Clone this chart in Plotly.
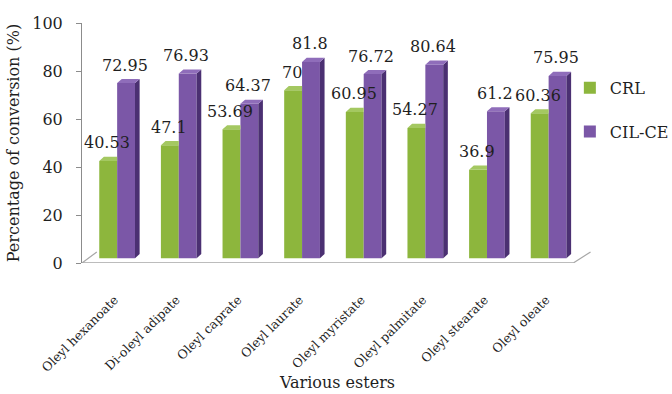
import plotly.graph_objects as go

# Conversion of the enzymatic esterifications, per ester
esters = ["Oleyl hexanoate", "Di-oleyl adipate", "Oleyl caprate", "Oleyl laurate",
          "Oleyl myristate", "Oleyl palmitate", "Oleyl stearate", "Oleyl oleate"]
crl = [40.53, 47.1, 53.69, 70, 60.95, 54.27, 36.9, 60.36]
cil_ce = [72.95, 76.93, 64.37, 81.8, 76.72, 80.64, 61.2, 75.95]

pos = list(range(len(esters)))

FONT = "DejaVu Serif"
TXT = "#1f1f1f"
GREEN, GREEN_TOP = "#8db63d", "#a4c861"
PURPLE, PURPLE_TOP, PURPLE_SIDE = "#7b57a7", "#8f6dba", "#4b3072"

BW = 0.29        # bar width (category units)
DX, DY = 0.075, 1.7   # pseudo-3D depth offset (x units, value units)
BASE_SHIFT = 2.0      # bars stand slightly behind the axis plane


def top_faces(vals, x_off, clip_right=False):
    xs, ys = [], []
    for p, v in zip(pos, vals):
        x0, x1 = p + x_off, p + x_off + BW
        xr = x1 if clip_right else x1 + DX
        xs += [x0, x1, xr, x0 + DX, x0, None]
        ys += [v, v, v + DY, v + DY, v, None]
    return xs, ys


def side_faces(vals, x_off):
    xs, ys = [], []
    for p, v in zip(pos, vals):
        x1 = p + x_off + BW
        xs += [x1, x1, x1 + DX, x1 + DX, x1, None]
        ys += [0, v, v + DY, DY, 0, None]
    return xs, ys


fig = go.Figure()

fig.add_trace(go.Bar(x=pos, y=crl, width=BW, offset=-BW, name="CRL",
                     marker=dict(color=GREEN, line=dict(width=0)),
                     yaxis="y2", legendgroup="a"))
fig.add_trace(go.Bar(x=pos, y=cil_ce, width=BW, offset=0, name="CIL-CE",
                     marker=dict(color=PURPLE, line=dict(width=0)),
                     yaxis="y2", legendgroup="b"))

gx, gy = top_faces(crl, -BW, clip_right=True)
fig.add_trace(go.Scatter(x=gx, y=gy, fill="toself", fillcolor=GREEN_TOP, mode="lines",
                         line=dict(width=0), yaxis="y2", showlegend=False, hoverinfo="skip"))
sx, sy = side_faces(cil_ce, 0)
fig.add_trace(go.Scatter(x=sx, y=sy, fill="toself", fillcolor=PURPLE_SIDE, mode="lines",
                         line=dict(width=0), yaxis="y2", showlegend=False, hoverinfo="skip"))
px_, py_ = top_faces(cil_ce, 0)
fig.add_trace(go.Scatter(x=px_, y=py_, fill="toself", fillcolor=PURPLE_TOP, mode="lines",
                         line=dict(width=0), yaxis="y2", showlegend=False, hoverinfo="skip"))

# value labels above each bar
annotations = []
for series, x_off in ((crl, -BW / 2), (cil_ce, BW / 2)):
    for p, v in zip(pos, series):
        annotations.append(dict(x=p + x_off - 0.02, y=v, xref="x", yref="y2",
                                text=f"{v:g}", showarrow=False, yshift=18,
                                font=dict(family=FONT, size=16, color=TXT)))

# floor of the 3D plot area
GRAY = "#a6a6a6"
shapes = [
    dict(type="line", xref="x", yref="y", x0=-0.57, y0=0, x1=7.40, y1=0,
         line=dict(color=GRAY, width=1.5)),
    dict(type="line", xref="x", yref="y", x0=-0.57, y0=0, x1=-0.33, y1=4.6,
         line=dict(color=GRAY, width=1.2)),
    dict(type="line", xref="x", yref="y", x0=7.40, y0=0, x1=7.68, y1=4.6,
         line=dict(color=GRAY, width=1.2)),
]

fig.update_layout(
    width=672, height=394,
    margin=dict(l=82, r=79, t=23, b=131, autoexpand=False),
    paper_bgcolor="white", plot_bgcolor="white",
    barmode="overlay",
    font=dict(family=FONT, color=TXT),
    annotations=annotations,
    shapes=shapes,
    xaxis=dict(range=[-0.57, 7.72], tickmode="array", tickvals=[p - 0.04 for p in pos],
               ticktext=esters, automargin=False,
               tickangle=-45, tickfont=dict(family=FONT, size=12.5, color=TXT),
               showgrid=False, zeroline=False, showline=False, ticks="",
               ticklabelstandoff=26,
               title=dict(text="Various esters", font=dict(family=FONT, size=16, color=TXT),
                          standoff=2)),
    yaxis=dict(range=[0, 100], tickvals=[0, 20, 40, 60, 80, 100], automargin=False,
               showgrid=False, zeroline=False, showline=True, linecolor="#8c8c8c",
               linewidth=1, ticks="outside", ticklen=5, tickcolor="#8c8c8c",
               ticklabelstandoff=10,
               tickfont=dict(family=FONT, size=16, color=TXT),
               title=dict(text="Percentage of conversion (%)",
                          font=dict(family=FONT, size=16, color=TXT), standoff=8)),
    yaxis2=dict(range=[-BASE_SHIFT, 100 - BASE_SHIFT], overlaying="y", visible=False),
    legend=dict(xref="container", yref="container", x=0.848, xanchor="left",
                y=0.82, yanchor="top",
                traceorder="grouped", tracegroupgap=20,
                font=dict(family=FONT, size=16, color=TXT),
                bgcolor="rgba(0,0,0,0)"),
    showlegend=True,
)

fig.write_html("out.html")
